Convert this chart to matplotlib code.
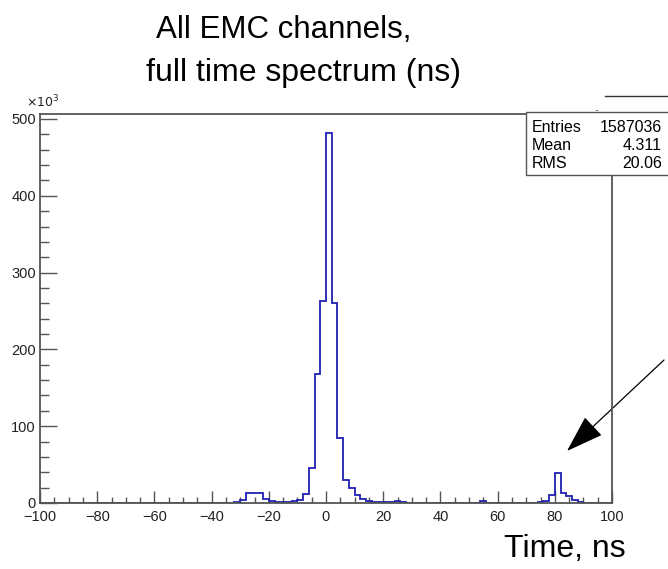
import numpy as np
import matplotlib
matplotlib.use("Agg")
import matplotlib.pyplot as plt
from matplotlib.lines import Line2D
from matplotlib.patches import Rectangle
from matplotlib.ticker import MultipleLocator

plt.rcParams['font.family'] = ['Liberation Sans', 'DejaVu Sans']

W, H = 668, 569

# 2 ns bins over the whole window
edges = np.arange(-100, 102, 2)

# left edge of every non-empty bin, and its content in thousands of hits
filled_left = [-34, -32, -30, -28, -26, -24, -22, -20, -18, -16, -14, -12,
               -10, -8, -6, -4, -2, 0, 2, 4, 6, 8, 10, 12, 14, 16, 18, 20,
               22, 24, 26, 28, 54, 72, 74, 76, 78, 80, 82, 84, 86, 88, 90]
filled_k = [0.5, 1.0, 4.5, 13, 13, 13, 5.5, 2.5, 1.2, 1.0, 1.2, 2.5,
            4.5, 11.5, 46, 168, 263, 482, 260, 84, 30, 19.5, 10.5, 5.5, 2.5, 1.2, 1.0, 1.5,
            1.2, 2.0, 1.2, 0.4, 2.0, 0.4, 1.0, 3.0, 11, 39.5, 13, 9, 4, 1.5, 0.3]

stat_names = ["Entries", "Mean", "RMS"]
stat_values = ["1587036", "4.311", "20.06"]

counts = np.zeros(len(edges) - 1)
for left, c in zip(filled_left, filled_k):
    counts[int((left + 100) // 2)] = c


def fx(x):
    return x / W


def fy(y):
    return 1 - y / H


fig = plt.figure(figsize=(W / 100, H / 100), dpi=100)
ax = fig.add_axes([fx(40), fy(503), fx(612) - fx(40), fy(114) - fy(503)])

ax.stairs(counts, edges, color='#2020b0', lw=1.3, zorder=2)

ax.set_xlim(-100, 100)
ax.set_ylim(0, 506.5)

frame_col = '#555555'
for s in ax.spines.values():
    s.set_color(frame_col)
    s.set_linewidth(1.3)
    s.set_zorder(3)

ax.xaxis.set_major_locator(MultipleLocator(20))
ax.xaxis.set_minor_locator(MultipleLocator(5))
ax.yaxis.set_major_locator(MultipleLocator(100))
ax.yaxis.set_minor_locator(MultipleLocator(20))
ax.tick_params(which='both', direction='in', top=False, right=False,
               color=frame_col, labelsize=10.5, labelcolor='#222222')
ax.tick_params(axis='x', which='major', length=8.5, width=1.0, pad=5)
ax.tick_params(axis='x', which='minor', length=4.2, width=1.0)
ax.tick_params(axis='y', which='major', length=12.5, width=1.0, pad=3)
ax.tick_params(axis='y', which='minor', length=6.3, width=1.0)

fig.text(fx(26), fy(102), r'$\times10^{3}$', fontsize=9, ha='left', va='center',
         color='#222222')

# title, two lines
fig.text(fx(284), fy(30), "All EMC channels,", fontsize=22.5, ha='center', va='center')
fig.text(fx(303), fy(73), "full time spectrum (ns)", fontsize=23, ha='center', va='center')

# axis title
fig.text(fx(626), fy(549), "Time, ns", fontsize=23, ha='right', va='center')

# stats box
fig.patches.append(Rectangle((fx(526), fy(175)), fx(680) - fx(526), fy(112) - fy(175),
                             transform=fig.transFigure, facecolor='white',
                             edgecolor=frame_col, lw=1.0, zorder=5))
row_y = [128, 146, 163]
for name, val, y in zip(stat_names, stat_values, row_y):
    fig.text(fx(532), fy(y), name, fontsize=11.5, ha='left', va='center', zorder=6)
    fig.text(fx(662), fy(y), val, fontsize=11.5, ha='right', va='center', zorder=6)

fig.lines.append(Line2D([fx(605), fx(668)], [fy(96), fy(96)], transform=fig.transFigure,
                        color='#333333', lw=1.0))
fig.text(fx(597), fy(108), "..", fontsize=7, ha='center', va='center', zorder=6)

# arrow pointing at the 80 ns peak
ax.annotate("", xy=(567, H - 451), xycoords='figure pixels',
            xytext=(664, H - 360), textcoords='figure pixels',
            arrowprops=dict(arrowstyle='-|>,head_length=1.2,head_width=0.4',
                            mutation_scale=20, color='black', lw=0.9,
                            shrinkA=0, shrinkB=0),
            annotation_clip=False)

fig.savefig("out.png", dpi=100)
